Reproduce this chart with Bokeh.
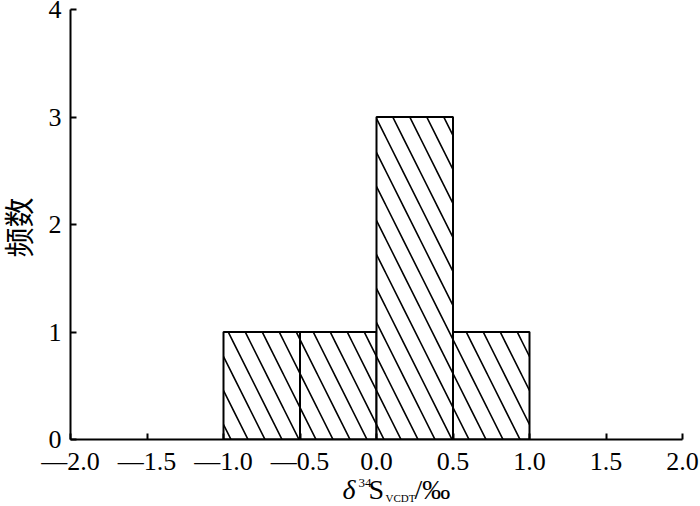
import math
from bokeh.plotting import figure
from bokeh.layouts import column, row
from bokeh.models import Range1d, FixedTicker, Label
from bokeh.embed import file_html
from bokeh.resources import INLINE

# ---- data ----
bin_left = [-1.0, -0.5, 0.0, 0.5]
bin_right = [-0.5, 0.0, 0.5, 1.0]
counts = [1, 1, 3, 1]
x_ticks = [-2.0, -1.5, -1.0, -0.5, 0.0, 0.5, 1.0, 1.5, 2.0]
x_tick_labels = ["—2.0", "—1.5", "—1.0", "—0.5", "0.0", "0.5", "1.0", "1.5", "2.0"]
y_ticks = [0, 1, 2, 3, 4]
y_title = "频数"

SERIF = "Liberation Serif"
LEFT_W = 36
MAIN_H = 478
TOTAL_H = 506

p = figure(width=700 - LEFT_W, height=MAIN_H, output_backend="svg", toolbar_location=None,
           x_range=Range1d(-2.0, 2.0), y_range=Range1d(0, 4))
p.frame_align = False
p.min_border_left = 70 - LEFT_W
p.min_border_right = 18
p.min_border_top = 9
p.min_border_bottom = 39
p.outline_line_color = None
p.xgrid.visible = False
p.ygrid.visible = False
p.background_fill_color = "white"
p.border_fill_color = "white"

p.quad(left=bin_left, right=bin_right, top=counts, bottom=0,
       fill_color="white", line_color="black", line_width=2,
       hatch_pattern="\\", hatch_color="black", hatch_scale=34, hatch_weight=1.6)

for ax, ticks in ((p.xaxis[0], x_ticks), (p.yaxis[0], y_ticks)):
    ax.ticker = FixedTicker(ticks=ticks)
    ax.minor_tick_line_color = None
    ax.major_tick_in = 6
    ax.major_tick_out = 0
    ax.axis_line_width = 2
    ax.major_tick_line_width = 2
    ax.axis_line_color = "black"
    ax.major_tick_line_color = "black"
    ax.major_label_text_font = SERIF
    ax.major_label_text_font_size = "26px"
    ax.major_label_text_color = "black"

p.xaxis[0].major_label_overrides = {t: lab for t, lab in zip(x_ticks, x_tick_labels)}
p.xaxis[0].major_label_standoff = 7
p.yaxis[0].major_label_standoff = 9


def strip(w, h, xr, yr):
    s = figure(width=w, height=h, output_backend="svg", toolbar_location=None,
               x_range=xr, y_range=yr, x_axis_location=None, y_axis_location=None)
    s.frame_align = False
    s.min_border = 0
    s.min_border_left = 0
    s.min_border_right = 0
    s.min_border_top = 0
    s.min_border_bottom = 0
    s.outline_line_color = None
    s.grid.visible = False
    s.background_fill_color = "white"
    s.border_fill_color = "white"
    return s


# ---- y-axis title strip (page pixel coordinates) ----
ys = strip(LEFT_W, TOTAL_H, Range1d(0, LEFT_W), Range1d(TOTAL_H, 0))
ys.add_layout(Label(x=16, y=227, text=y_title, angle=math.pi / 2,
                    text_align="center", text_baseline="middle",
                    text_font="Noto Sans CJK SC", text_font_size="30px",
                    text_color="black"))

# ---- x-axis title strip: δ^{34}S_{VCDT}/‰ (page pixel coordinates) ----
xs = strip(700 - LEFT_W, TOTAL_H - MAIN_H, Range1d(LEFT_W, 700), Range1d(TOTAL_H, MAIN_H))
pieces = [
    (342, 489, "δ", "28px", "italic"),
    (358, 482, "34", "13px", "normal"),
    (368, 489, "S", "28px", "normal"),
    (385, 497, "VCDT", "11px", "normal"),
    (414, 489, "/‰", "28px", "normal"),
]
for x, y, t, fs, style in pieces:
    xs.add_layout(Label(x=x, y=y, text=t,
                        text_align="left", text_baseline="alphabetic",
                        text_font=SERIF, text_font_size=fs, text_font_style=style,
                        text_color="black"))

layout = row(ys, column(p, xs, spacing=0), spacing=0)
open("out.html", "w").write(file_html(layout, INLINE))
